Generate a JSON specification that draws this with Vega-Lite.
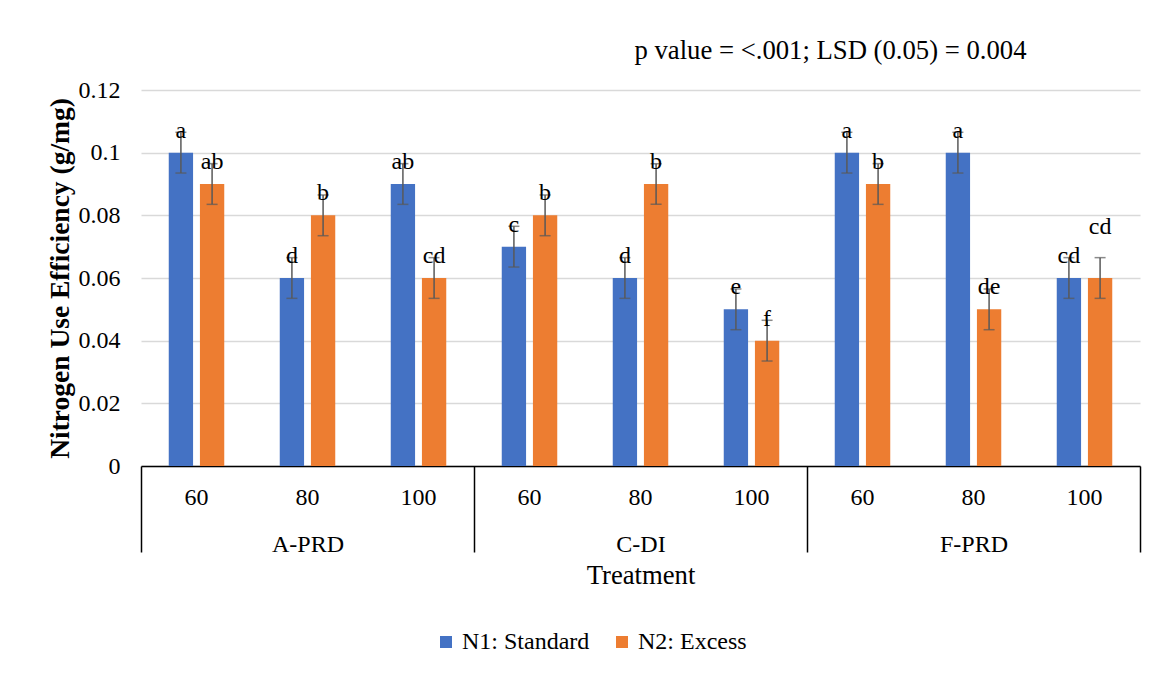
{
  "$schema": "https://vega.github.io/schema/vega-lite/v6.json",
  "width": 999,
  "height": 376,
  "padding": {"left": 46, "top": 38, "right": 21, "bottom": 10},
  "background": "white",
  "config": {
    "font": "Liberation Serif",
    "view": {"stroke": null},
    "axis": {"labelFont": "Liberation Serif", "titleFont": "Liberation Serif", "labelColor": "#000", "titleColor": "#000"}
  },
  "title": {
    "text": "p value = <.001; LSD (0.05) = 0.004",
    "font": "Liberation Serif",
    "fontSize": 26.7,
    "fontWeight": "normal",
    "color": "#000",
    "anchor": "middle",
    "dx": 190,
    "offset": 13
  },
  "data": {
    "values": [
      {"group": "A-PRD", "level": "60", "key": "A-PRD|60", "series": "N1: Standard", "value": 0.10, "lo": 0.0935, "hi": 0.1065, "label": "a"},
      {"group": "A-PRD", "level": "60", "key": "A-PRD|60", "series": "N2: Excess", "value": 0.09, "lo": 0.0835, "hi": 0.0965, "label": "ab"},
      {"group": "A-PRD", "level": "80", "key": "A-PRD|80", "series": "N1: Standard", "value": 0.06, "lo": 0.0535, "hi": 0.0665, "label": "d"},
      {"group": "A-PRD", "level": "80", "key": "A-PRD|80", "series": "N2: Excess", "value": 0.08, "lo": 0.0735, "hi": 0.0865, "label": "b"},
      {"group": "A-PRD", "level": "100", "key": "A-PRD|100", "series": "N1: Standard", "value": 0.09, "lo": 0.0835, "hi": 0.0965, "label": "ab"},
      {"group": "A-PRD", "level": "100", "key": "A-PRD|100", "series": "N2: Excess", "value": 0.06, "lo": 0.0535, "hi": 0.0665, "label": "cd"},
      {"group": "C-DI", "level": "60", "key": "C-DI|60", "series": "N1: Standard", "value": 0.07, "lo": 0.0635, "hi": 0.0765, "label": "c"},
      {"group": "C-DI", "level": "60", "key": "C-DI|60", "series": "N2: Excess", "value": 0.08, "lo": 0.0735, "hi": 0.0865, "label": "b"},
      {"group": "C-DI", "level": "80", "key": "C-DI|80", "series": "N1: Standard", "value": 0.06, "lo": 0.0535, "hi": 0.0665, "label": "d"},
      {"group": "C-DI", "level": "80", "key": "C-DI|80", "series": "N2: Excess", "value": 0.09, "lo": 0.0835, "hi": 0.0965, "label": "b"},
      {"group": "C-DI", "level": "100", "key": "C-DI|100", "series": "N1: Standard", "value": 0.05, "lo": 0.0435, "hi": 0.0565, "label": "e"},
      {"group": "C-DI", "level": "100", "key": "C-DI|100", "series": "N2: Excess", "value": 0.04, "lo": 0.0335, "hi": 0.0465, "label": "f"},
      {"group": "F-PRD", "level": "60", "key": "F-PRD|60", "series": "N1: Standard", "value": 0.10, "lo": 0.0935, "hi": 0.1065, "label": "a"},
      {"group": "F-PRD", "level": "60", "key": "F-PRD|60", "series": "N2: Excess", "value": 0.09, "lo": 0.0835, "hi": 0.0965, "label": "b"},
      {"group": "F-PRD", "level": "80", "key": "F-PRD|80", "series": "N1: Standard", "value": 0.10, "lo": 0.0935, "hi": 0.1065, "label": "a"},
      {"group": "F-PRD", "level": "80", "key": "F-PRD|80", "series": "N2: Excess", "value": 0.05, "lo": 0.0435, "hi": 0.0565, "label": "de"},
      {"group": "F-PRD", "level": "100", "key": "F-PRD|100", "series": "N1: Standard", "value": 0.06, "lo": 0.0535, "hi": 0.0665, "label": "cd"},
      {"group": "F-PRD", "level": "100", "key": "F-PRD|100", "series": "N2: Excess", "value": 0.06, "lo": 0.0535, "hi": 0.0665, "label": "cd"}
    ]
  },
  "layer": [
    {
      "encoding": {
        "x": {
          "field": "key",
          "type": "nominal",
          "sort": null,
          "scale": {"paddingInner": 0.5, "paddingOuter": 0.25},
          "axis": {
            "orient": "bottom",
            "title": null,
            "labelExpr": "split(datum.label, '|')[1]",
            "labelAngle": 0,
            "labelFontSize": 24,
            "labelPadding": 19,
            "ticks": false,
            "domain": true,
            "domainColor": "#000",
            "domainWidth": 1.5,
            "grid": false
          }
        },
        "xOffset": {"field": "series", "type": "nominal", "sort": ["N1: Standard", "N2: Excess"], "scale": {"paddingInner": 0.22, "paddingOuter": 0}}
      },
      "layer": [
        {
          "mark": {"type": "bar"},
          "encoding": {
            "y": {
              "field": "value",
              "type": "quantitative",
              "scale": {"domain": [0, 0.12]},
              "axis": {
                "title": "Nitrogen Use Efficiency (g/mg)",
                "titleFontSize": 27.5,
                "titleFontWeight": "bold",
                "titlePadding": 4,
                "values": [0, 0.02, 0.04, 0.06, 0.08, 0.1, 0.12],
                "format": ".2~f",
                "labelFontSize": 24,
                "labelPadding": 21,
                "domain": false,
                "ticks": false,
                "grid": true,
                "gridColor": "#d9d9d9",
                "gridWidth": 1.5
              }
            },
            "color": {
              "field": "series",
              "type": "nominal",
              "scale": {"domain": ["N1: Standard", "N2: Excess"], "range": ["#4472C4", "#ED7D31"]},
              "legend": {
                "title": null,
                "orient": "none",
                "legendX": 293,
                "legendY": 540,
                "direction": "horizontal",
                "labelFont": "Liberation Serif",
                "labelFontSize": 24,
                "labelColor": "#000",
                "symbolType": "square",
                "symbolSize": 144,
                "symbolStrokeWidth": 0,
                "columnPadding": 20,
                "labelOffset": 4
              }
            }
          }
        },
        {
          "mark": {"type": "rule", "color": "#595959", "strokeWidth": 1.5},
          "encoding": {
            "y": {"field": "lo", "type": "quantitative"},
            "y2": {"field": "hi"}
          }
        },
        {
          "mark": {"type": "tick", "color": "#595959", "thickness": 1.5, "size": 11},
          "encoding": {"y": {"field": "lo", "type": "quantitative"}}
        },
        {
          "mark": {"type": "tick", "color": "#595959", "thickness": 1.5, "size": 11},
          "encoding": {"y": {"field": "hi", "type": "quantitative"}}
        },
        {
          "transform": [{"filter": "!(datum.group === 'F-PRD' && datum.level === '100' && datum.series === 'N2: Excess')"}],
          "mark": {"type": "text", "font": "Liberation Serif", "fontSize": 24, "baseline": "middle", "dy": -22, "color": "#000"},
          "encoding": {
            "y": {"field": "value", "type": "quantitative"},
            "text": {"field": "label"}
          }
        },
        {
          "transform": [{"filter": "datum.group === 'F-PRD' && datum.level === '100' && datum.series === 'N2: Excess'"}],
          "mark": {"type": "text", "font": "Liberation Serif", "fontSize": 24, "baseline": "middle", "dy": -51, "color": "#000"},
          "encoding": {
            "y": {"field": "value", "type": "quantitative"},
            "text": {"field": "label"}
          }
        }
      ]
    },
    {
      "mark": {"type": "tick", "opacity": 0},
      "encoding": {
        "x": {
          "field": "group",
          "type": "nominal",
          "sort": null,
          "scale": {"paddingInner": 0, "paddingOuter": 0},
          "axis": {
            "orient": "bottom",
            "offset": 0,
            "title": "Treatment",
            "titleFontSize": 26.7,
            "titleFontWeight": "normal",
            "titlePadding": 6,
            "labelAngle": 0,
            "labelFontSize": 24,
            "labelPadding": -20,
            "tickBand": "extent",
            "ticks": true,
            "tickSize": 86,
            "tickColor": "#000",
            "tickWidth": 1.5,
            "domain": false,
            "grid": false
          }
        }
      }
    }
  ],
  "resolve": {"scale": {"x": "independent"}}
}
